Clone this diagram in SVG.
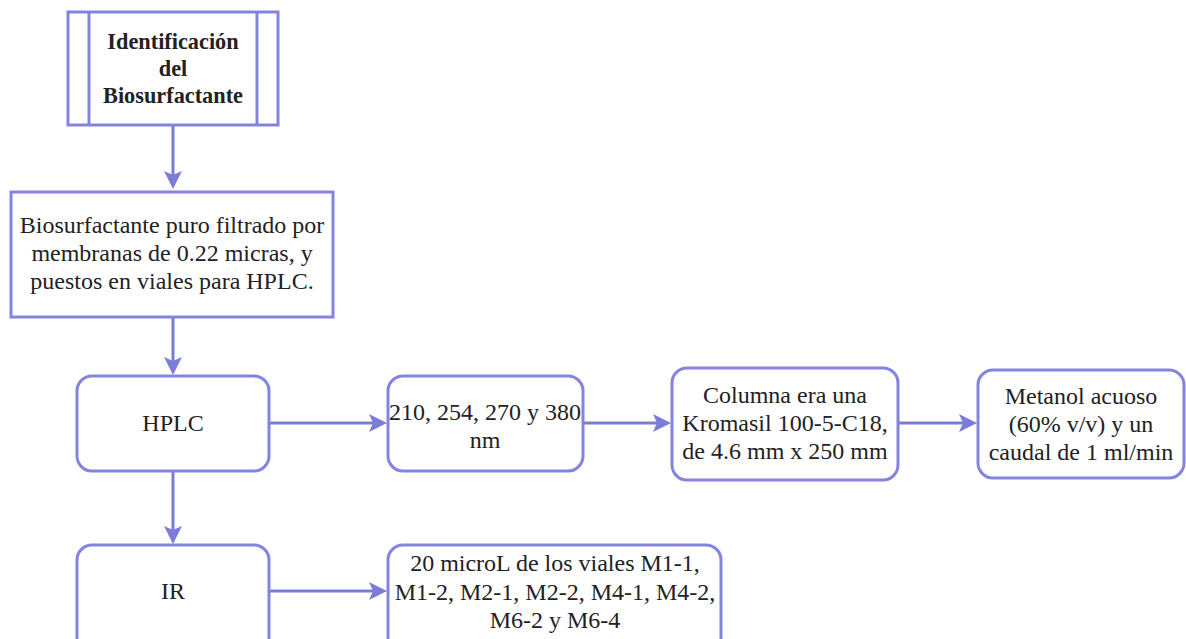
<svg xmlns="http://www.w3.org/2000/svg" width="1186" height="639" viewBox="0 0 1186 639">
<defs>
<style>
.box{fill:#fff;stroke:#8484e0;stroke-width:3}
text{font-size:24px;fill:#222;text-anchor:middle}
.b{font-weight:bold;font-size:22.3px}
.c{stroke:#7b7bd8;stroke-width:3;fill:none}
.h{fill:#7b7bd8}
</style>
</defs>
<rect width="1186" height="639" fill="#fff"/>
<g id="connectors">
<path class="c" d="M173,126 V176"/>
<path class="h" d="M164,171 L173,189 L182,171 L173,175 Z"/>
<path class="c" d="M173,318 V362"/>
<path class="h" d="M164,357 L173,375 L182,357 L173,361 Z"/>
<path class="c" d="M269,423 H374"/>
<path class="h" d="M369,414 L387,423 L369,432 L373,423 Z"/>
<path class="c" d="M583,423 H658"/>
<path class="h" d="M653,414 L671,423 L653,432 L657,423 Z"/>
<path class="c" d="M898,423 H964"/>
<path class="h" d="M959,414 L977,423 L959,432 L963,423 Z"/>
<path class="c" d="M173,472 V531"/>
<path class="h" d="M164,526 L173,544 L182,526 L173,530 Z"/>
<path class="c" d="M269,591 H374"/>
<path class="h" d="M369,582 L387,591 L369,600 L373,591 Z"/>
</g>
<g font-family="Liberation Serif, serif">
<g id="n1">
<rect class="box" x="68" y="12" width="210" height="113"/>
<line class="box" x1="89" y1="12" x2="89" y2="125"/>
<line class="box" x1="257" y1="12" x2="257" y2="125"/>
<text class="b" x="173" y="49">Identificación</text>
<text class="b" x="173" y="76">del</text>
<text class="b" x="173" y="103">Biosurfactante</text>
</g>
<g id="n2">
<rect class="box" x="11" y="192" width="322" height="125"/>
<text x="172" y="233">Biosurfactante puro filtrado por</text>
<text x="172" y="261">membranas de 0.22 micras, y</text>
<text x="172" y="289">puestos en viales para HPLC.</text>
</g>
<g id="n3">
<rect class="box" x="77" y="376" width="192" height="95" rx="15"/>
<text x="173" y="431">HPLC</text>
</g>
<g id="n4">
<rect class="box" x="388" y="376" width="195" height="95" rx="15"/>
<text x="485" y="420">210, 254, 270 y 380</text>
<text x="485" y="448">nm</text>
</g>
<g id="n5">
<rect class="box" x="672" y="368" width="226" height="112" rx="15"/>
<text x="785" y="403">Columna era una</text>
<text x="785" y="431">Kromasil 100-5-C18,</text>
<text x="785" y="459">de 4.6 mm x 250 mm</text>
</g>
<g id="n6">
<rect class="box" x="978" y="370" width="206" height="108" rx="15"/>
<text x="1081" y="404">Metanol acuoso</text>
<text x="1081" y="432">(60% v/v) y un</text>
<text x="1081" y="460">caudal de 1 ml/min</text>
</g>
<g id="n7">
<rect class="box" x="77" y="545" width="192" height="110" rx="15"/>
<text x="173" y="599">IR</text>
</g>
<g id="n8">
<rect class="box" x="388" y="545" width="333" height="110" rx="15"/>
<text x="555" y="571">20 microL de los viales M1-1,</text>
<text x="555" y="600">M1-2, M2-1, M2-2, M4-1, M4-2,</text>
<text x="555" y="628">M6-2 y M6-4</text>
</g>
</g>
</svg>
